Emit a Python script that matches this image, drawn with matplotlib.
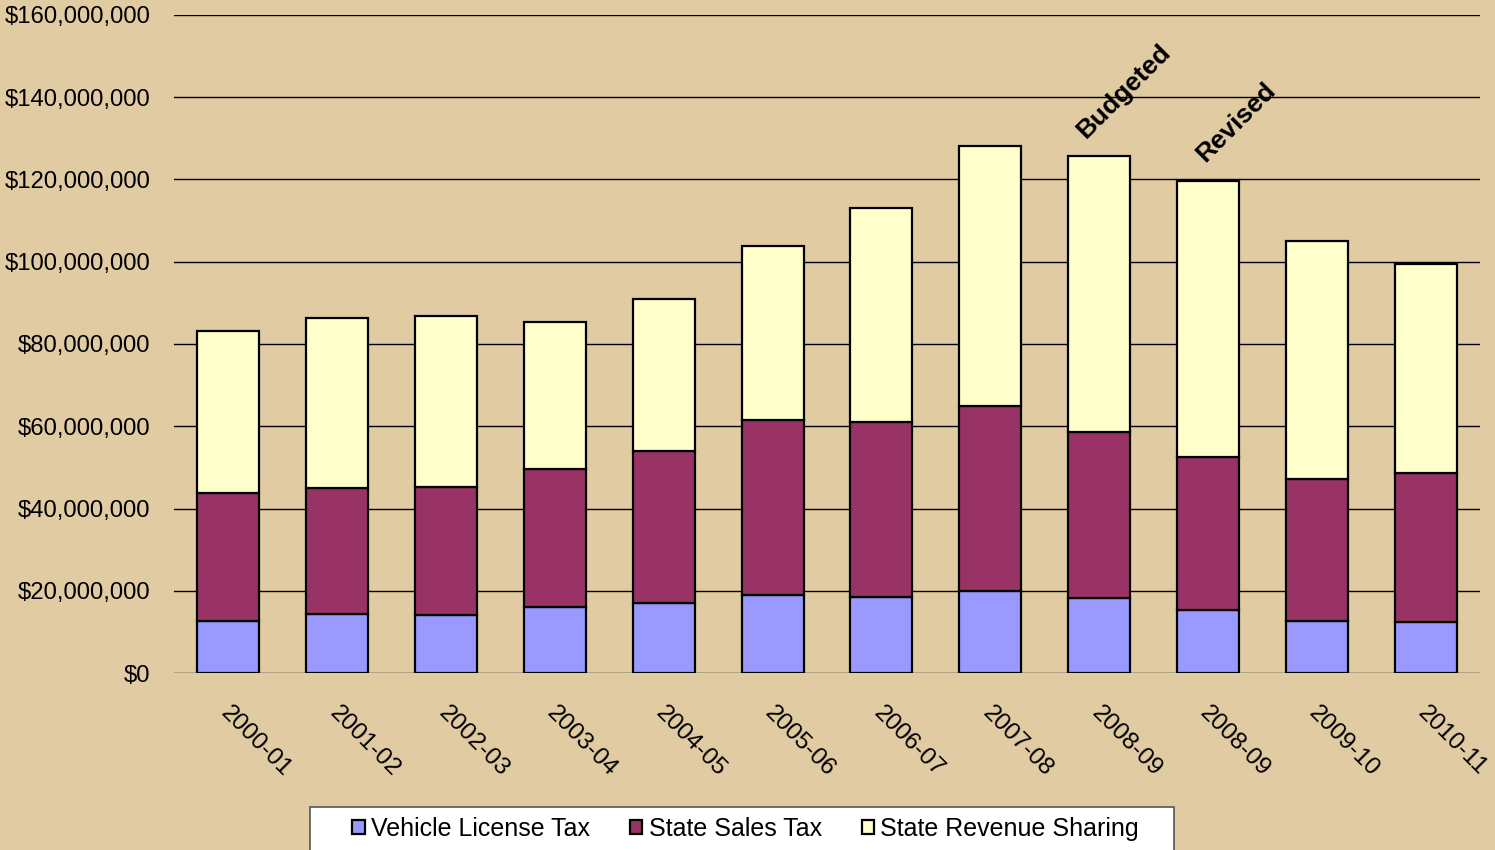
import numpy as np
import matplotlib.pyplot as plt
from matplotlib.patches import Rectangle
from matplotlib.ticker import FuncFormatter

# Revenue by fiscal year, in millions of dollars
years = ['2000-01', '2001-02', '2002-03', '2003-04', '2004-05', '2005-06',
         '2006-07', '2007-08', '2008-09', '2008-09', '2009-10', '2010-11']
vehicle_license = [12.6, 14.3, 14.1, 16.0, 17.0, 19.0, 18.5, 19.9, 18.2, 15.3, 12.6, 12.4]
sales_tax = [31.2, 30.7, 31.1, 33.6, 37.0, 42.5, 42.5, 45.0, 40.4, 37.2, 34.6, 36.2]
revenue_sharing = [39.4, 41.3, 41.6, 35.7, 36.9, 42.3, 52.1, 63.2, 67.1, 67.1, 57.8, 50.9]

bg = '#E0CBA3'
colors = ['#9999FF', '#993366', '#FFFFCC']
names = ['Vehicle License Tax', 'State Sales Tax', 'State Revenue Sharing']

plt.rcParams['font.family'] = ['Liberation Sans', 'DejaVu Sans']

fig = plt.figure(figsize=(14.95, 8.5), dpi=100, facecolor=bg)
ax = fig.add_axes([0.1164, 0.2082, 0.8736, 0.7742])
ax.set_facecolor(bg)

x = np.arange(len(years))
vlt = np.array(vehicle_license) * 1e6
sst = np.array(sales_tax) * 1e6
srs = np.array(revenue_sharing) * 1e6

bars = []
bottom = np.zeros(len(years))
for vals, c in zip([vlt, sst, srs], colors):
    b = ax.bar(x, vals, 0.57, bottom=bottom, color=c, edgecolor='black',
               linewidth=1.6, zorder=3)
    bars.append(b)
    bottom = bottom + vals

ax.set_xlim(-0.5, len(years) - 0.5)
ax.set_ylim(0, 160e6)
ax.set_yticks(np.arange(0, 160e6 + 1, 20e6))
ax.yaxis.set_major_formatter(FuncFormatter(lambda v, p: f'${v:,.0f}'))
ax.grid(axis='y', color='black', linewidth=1, zorder=0)
for s in ax.spines.values():
    s.set_visible(False)
ax.tick_params(axis='y', length=0, pad=17, labelsize=17.2)
ax.tick_params(axis='x', length=0, pad=21)
ax.set_xticks(x + 0.03)
ax.set_xticklabels(years, rotation=-45, ha='left', va='top',
                   rotation_mode='anchor', fontsize=17.5)

# Labels for the two 2008-09 columns
ax.text(8.23, 141.5e6, 'Budgeted', rotation=45, ha='center', va='center',
        fontsize=19, fontweight='bold')
ax.text(9.26, 134e6, 'Revised', rotation=45, ha='center', va='center',
        fontsize=19, fontweight='bold')

# Legend box, running off the bottom edge
fig.add_artist(Rectangle((310 / 1495, -0.01), 864 / 1495, 0.0606,
                         transform=fig.transFigure, facecolor='white',
                         edgecolor='#555555', linewidth=1.2))
fig.legend([b[0] for b in bars], names, loc='center', ncol=3,
           bbox_to_anchor=(0.4987, 0.0247), frameon=False, fontsize=18,
           handlelength=0.5, handleheight=0.5, handletextpad=0.25,
           columnspacing=1.6, borderpad=0, borderaxespad=0)

fig.savefig('out.png', dpi=100, facecolor=bg)
